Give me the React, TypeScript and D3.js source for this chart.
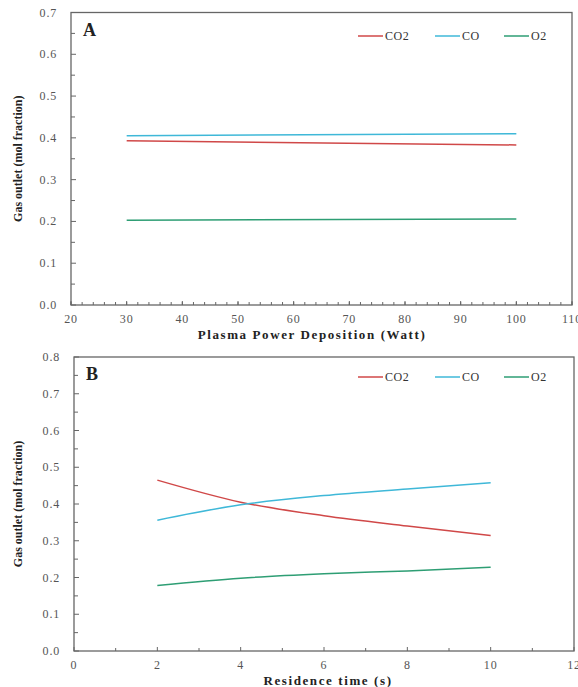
import React from 'react';
import * as d3 from 'd3';

// panel A: plasma power
const powerX = [30, 100];
const powerCO2 = [0.393, 0.383];
const powerCO = [0.405, 0.41];
const powerO2 = [0.203, 0.206];

// panel B: residence time
const timeX = [2, 4, 6, 8, 10];
const timeCO2 = [0.465, 0.405, 0.368, 0.34, 0.314];
const timeCO = [0.356, 0.398, 0.423, 0.441, 0.458];
const timeO2 = [0.178, 0.198, 0.21, 0.218, 0.228];

const seriesNames = ['CO2', 'CO', 'O2'];
const colors = ['#d04848', '#3fb8d8', '#2e9e74'];

const FONT = '"Liberation Serif", "Times New Roman", serif';

type PanelProps = {
  top: number; bottom: number; left: number; right: number;
  xDomain: [number, number]; yDomain: [number, number];
  xMajor: number[]; xMinor: number[]; yMajor: number[]; yMinor: number[];
  xFmt: (v: number) => string;
  xs: number[]; ys: number[][];
  label: string; xTitle: string; titleX: number; legendY: number;
  curved: boolean;
};

function Panel(p: PanelProps) {
  const x = d3.scaleLinear().domain(p.xDomain).range([p.left, p.right]);
  const y = d3.scaleLinear().domain(p.yDomain).range([p.bottom, p.top]);
  const line = d3.line<number>()
    .x((_, i) => x(p.xs[i]))
    .y(d => y(d))
    .curve(p.curved ? d3.curveMonotoneX : d3.curveLinear);
  const axisCol = '#666';
  const legendX = [358, 435, 504];
  const midY = (p.top + p.bottom) / 2;
  return (
    <g>
      <rect x={p.left} y={p.top} width={p.right - p.left} height={p.bottom - p.top}
        fill="none" stroke={axisCol} strokeWidth={1.3} />
      {p.yMinor.map(v => (
        <line key={'ym' + v} x1={p.left} x2={p.left + 4} y1={y(v)} y2={y(v)} stroke={axisCol} />
      ))}
      {p.yMajor.map(v => (
        <g key={'y' + v}>
          <line x1={p.left} x2={p.left + 5} y1={y(v)} y2={y(v)} stroke={axisCol} />
          <text x={p.left - 14} y={y(v) + 4} textAnchor="end" fontSize={12} letterSpacing={0.8}
            fill="#555" fontFamily={FONT}>{v.toFixed(1)}</text>
        </g>
      ))}
      {p.xMinor.map(v => (
        <line key={'xm' + v} x1={x(v)} x2={x(v)} y1={p.bottom} y2={p.bottom - 3} stroke={axisCol} />
      ))}
      {p.xMajor.map(v => (
        <g key={'x' + v}>
          <line x1={x(v)} x2={x(v)} y1={p.bottom} y2={p.bottom - 4} stroke={axisCol} />
          <text x={x(v)} y={p.bottom + 18} textAnchor="middle" fontSize={12} letterSpacing={0.8}
            fill="#555" fontFamily={FONT}>{p.xFmt(v)}</text>
        </g>
      ))}
      {p.ys.map((s, i) => (
        <path key={'s' + i} d={line(s) || ''} fill="none" stroke={colors[i]} strokeWidth={1.5} />
      ))}
      {seriesNames.map((n, i) => (
        <g key={'l' + n}>
          <line x1={legendX[i]} x2={legendX[i] + 25} y1={p.legendY} y2={p.legendY}
            stroke={colors[i]} strokeWidth={1.5} />
          <text x={legendX[i] + 27} y={p.legendY + 4} fontSize={12} letterSpacing={0.5}
            fill="#333" fontFamily={FONT}>{n}</text>
        </g>
      ))}
      <text x={p.left + 12} y={p.top + 23} fontSize={18} fontWeight="bold" fill="#222"
        fontFamily={FONT}>{p.label}</text>
      <text x={p.titleX} y={p.bottom + 34} textAnchor="middle" fontSize={13} fontWeight="bold"
        letterSpacing={1.6} fill="#222" fontFamily={FONT}>{p.xTitle}</text>
      <text transform={`translate(22,${midY}) rotate(-90)`} textAnchor="middle" fontSize={12}
        fontWeight="bold" fill="#222" fontFamily={FONT}>Gas outlet (mol fraction)</text>
    </g>
  );
}

export default function App() {
  const range = (a: number, b: number, s: number) => d3.range(a, b + s / 2, s);
  return (
    <svg width={578} height={687} style={{ position: 'absolute', left: 0, top: 0, background: '#fff' }}>
      <Panel top={12.5} bottom={305} left={71} right={572}
        xDomain={[20, 110]} yDomain={[0, 0.7]}
        xMajor={range(20, 110, 10)} xMinor={range(20, 110, 2)}
        yMajor={range(0, 0.7, 0.1)} yMinor={range(0.05, 0.65, 0.1)}
        xFmt={v => String(Math.round(v))}
        xs={powerX} ys={[powerCO2, powerCO, powerO2]}
        label="A" xTitle="Plasma Power Deposition (Watt)" titleX={312} legendY={36}
        curved={false} />
      <Panel top={357} bottom={651} left={74} right={574}
        xDomain={[0, 12]} yDomain={[0, 0.8]}
        xMajor={range(0, 12, 2)} xMinor={range(1, 11, 2)}
        yMajor={range(0, 0.8, 0.1)} yMinor={range(0.05, 0.75, 0.1)}
        xFmt={v => String(Math.round(v))}
        xs={timeX} ys={[timeCO2, timeCO, timeO2]}
        label="B" xTitle="Residence time (s)" titleX={328} legendY={377}
        curved={true} />
    </svg>
  );
}
